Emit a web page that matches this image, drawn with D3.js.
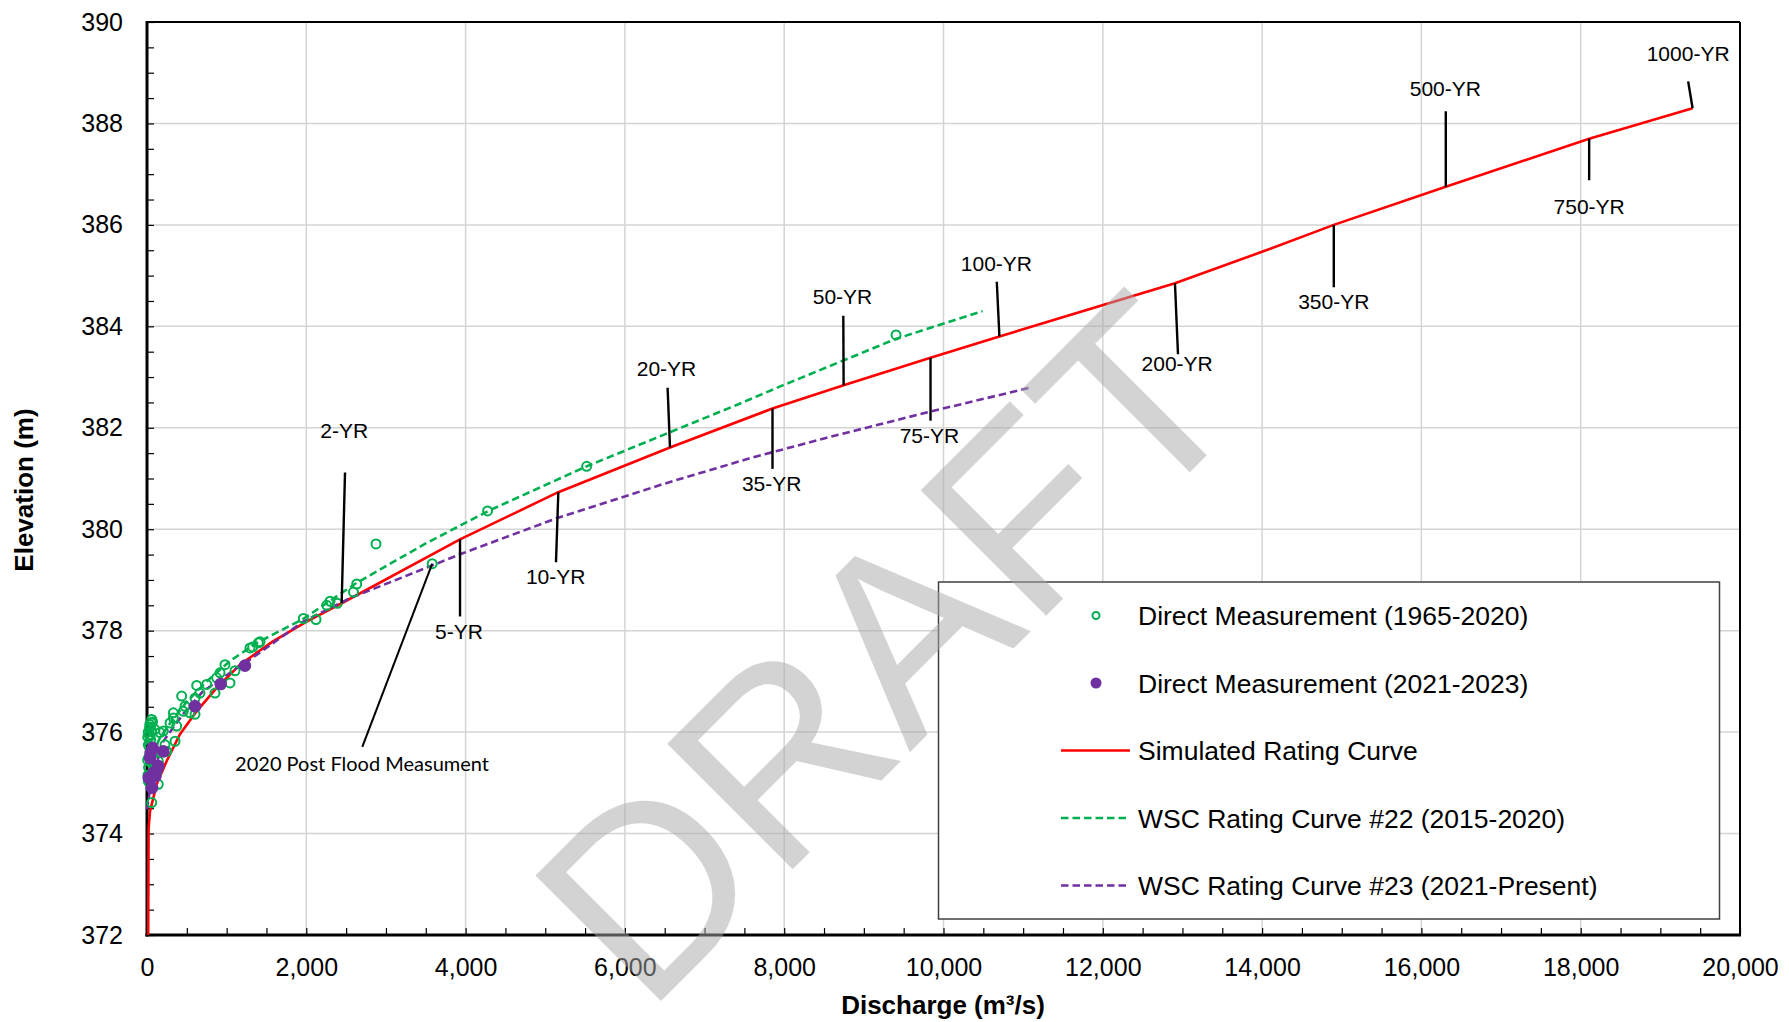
<!DOCTYPE html>
<html>
<head>
<meta charset="utf-8">
<script src="https://cdnjs.cloudflare.com/ajax/libs/d3/7.8.5/d3.min.js"></script>
<style>
body { margin: 0; background: #fff; }
svg { display: block; }
</style>
</head>
<body>
<div id="chart-bg"></div>
<script>
// simulated rating curve (discharge, elevation)
var simQ = [15, 20, 38, 121, 247, 414, 623, 874, 1167, 1581, 2004, 2444, 3930, 5164, 6566, 7853, 8746, 9837, 10702, 12906, 13999, 14900, 16306, 18106, 19405];
var simE = [372.0, 374.1, 374.44, 374.97, 375.43, 375.96, 376.41, 376.87, 377.33, 377.79, 378.18, 378.54, 379.80, 380.73, 381.61, 382.38, 382.84, 383.38, 383.80, 384.85, 385.47, 386.0, 386.75, 387.70, 388.30];

// WSC rating curve #22 (2015-2020)
var wsc22Q = [20, 60, 150, 300, 500, 750, 1040, 1380, 1960, 2630, 3500, 4285, 5520, 6500, 7403, 7988, 9400, 10490];
var wsc22E = [375.1, 375.5, 375.85, 376.2, 376.6, 377.0, 377.4, 377.76, 378.23, 378.94, 379.72, 380.36, 381.24, 381.87, 382.45, 382.84, 383.75, 384.3];

// WSC rating curve #23 (2021-present)
var wsc23Q = [0, 50, 205, 450, 700, 1126, 1293, 1963, 2549, 3971, 5150, 6500, 7571, 8500, 9837, 11086];
var wsc23E = [374.48, 375.0, 375.82, 376.35, 376.8, 377.26, 377.43, 378.18, 378.64, 379.53, 380.22, 380.9, 381.40, 381.79, 382.32, 382.79];

// direct measurements 1965-2020
var meas1Q = [1963, 2122, 2256, 2298, 2390, 2592, 2633, 2875, 3581, 4276, 5520, 9404, 1419, 1327, 1398, 1293,
	979, 1105, 917, 875, 854, 1042, 749, 624, 603, 665, 477, 456, 540, 603, 331, 289, 373, 352, 205, 163,
	59, 59, 38, 17, 226, 247, 142, 121, 142, 59, 17, 38, 96, 435, 331, 100, 33,
	20, 25, 30, 45, 15, 40, 70, 50, 80, 10, 60, 12, 28, 8, 35];
var meas1E = [378.24, 378.22, 378.50, 378.58, 378.54, 378.76, 378.92, 379.71, 379.32, 380.36, 381.24, 383.83, 377.78, 377.68, 377.76, 377.66,
	377.33, 377.21, 377.17, 377.07, 376.77, 376.97, 376.94, 376.92, 376.67, 376.77, 376.51, 376.41, 376.38, 376.35, 376.28, 376.18, 376.12, 375.82, 376.02, 375.99,
	376.18, 376.02, 375.92, 375.75, 375.75, 375.62, 375.43, 375.20, 374.97, 374.61, 375.03, 375.56, 375.30, 376.71, 376.38, 376.05, 376.08,
	375.3, 375.5, 375.7, 375.85, 376.0, 376.1, 376.2, 375.4, 375.6, 375.9, 376.25, 375.15, 375.95, 375.45, 376.15];

// direct measurements 2021-2023
var meas2Q = [1230, 925, 603, 205, 71, 38, 142, 21, 105, 63, 84, 46, 126];
var meas2E = [377.31, 376.95, 376.51, 375.62, 375.69, 375.49, 375.33, 375.10, 375.13, 374.90, 375.20, 375.59, 375.27];

// return period annotations
var rpLabels = ["2-YR", "5-YR", "10-YR", "20-YR", "35-YR", "50-YR", "75-YR", "100-YR", "200-YR", "350-YR", "500-YR", "750-YR", "1000-YR"];
var rpQ = [2444, 3930, 5164, 6566, 7853, 8746, 9837, 10702, 12906, 14900, 16306, 18106, 19405];
var rpE = [378.54, 379.80, 380.73, 381.61, 382.38, 382.84, 383.38, 383.80, 384.85, 386.0, 386.75, 387.70, 388.30];
var rpEndQ = [2486, 3930, 5135, 6536, 7853, 8742, 9837, 10669, 12944, 14900, 16306, 18106, 19349];
var rpEndE = [381.12, 378.28, 379.35, 382.79, 381.19, 384.21, 382.14, 384.88, 383.45, 384.77, 388.24, 386.88, 388.83];
var rpTextQ = [2477, 3917, 5131, 6522, 7843, 8732, 9823, 10664, 12934, 14900, 16301, 18106, 19349];
var rpTextE = [381.88, 377.93, 379.02, 383.11, 380.84, 384.53, 381.79, 385.19, 383.21, 384.43, 388.63, 386.31, 389.33];

// post flood note
var noteText = "2020 Post Flood Measument";
var noteQ = [3581, 2703];
var noteE = [379.32, 375.71];
var noteTextQ = 2700;
var noteTextE = 375.37;

var xTicks = d3.range(0, 20001, 2000);
var yTicks = d3.range(372, 390.1, 2);

var legendLabels = ["Direct Measurement (1965-2020)", "Direct Measurement (2021-2023)", "Simulated Rating Curve", "WSC Rating Curve #22 (2015-2020)", "WSC Rating Curve #23 (2021-Present)"];

var W = 1789, H = 1022;
var pL = 147, pR = 1740, pT = 22, pB = 935;
var font = "'Liberation Sans', Arial, sans-serif";
var green = "#00b050", purple = "#7030a0", red = "#ff0000";

var xScale = d3.scaleLinear().domain([0, 20000]).range([pL, pR]);
var yScale = d3.scaleLinear().domain([372, 390]).range([pB, pT]);

var svg = d3.
select("#chart-bg").
append("svg").
attr("width", W).
attr("height", H).
style("font-family", font);

// grid
svg.append("g").
selectAll("line").
data(xTicks.slice(1, -1)).
enter().
append("line").
attr("x1", function (d) {return xScale(d);}).
attr("x2", function (d) {return xScale(d);}).
attr("y1", pT).
attr("y2", pB).
attr("stroke", "#d4d4d4").
attr("stroke-width", 1.5);

svg.append("g").
selectAll("line").
data(yTicks.slice(1, -1)).
enter().
append("line").
attr("y1", function (d) {return yScale(d);}).
attr("y2", function (d) {return yScale(d);}).
attr("x1", pL).
attr("x2", pR).
attr("stroke", "#d4d4d4").
attr("stroke-width", 1.5);

// minor ticks (inside)
svg.append("g").
attr("transform", "translate(0," + pB + ")").
call(d3.axisBottom(xScale).tickValues(d3.range(0, 20001, 500)).tickSize(-7).tickFormat("")).
call(function (g) {g.select(".domain").remove();}).
selectAll("line").attr("stroke", "#000").attr("stroke-width", 1.2);

svg.append("g").
attr("transform", "translate(" + pL + ",0)").
call(d3.axisLeft(yScale).tickValues(d3.range(372, 390.01, 0.5)).tickSize(-7).tickFormat("")).
call(function (g) {g.select(".domain").remove();}).
selectAll("line").attr("stroke", "#000").attr("stroke-width", 1.2);

// frame
svg.append("line").attr("x1", pL).attr("x2", pR).attr("y1", pT).attr("y2", pT).attr("stroke", "#000").attr("stroke-width", 2);
svg.append("line").attr("x1", pR).attr("x2", pR).attr("y1", pT).attr("y2", pB).attr("stroke", "#000").attr("stroke-width", 2);
svg.append("line").attr("x1", pL).attr("x2", pL).attr("y1", pT - 1).attr("y2", pB + 1.5).attr("stroke", "#000").attr("stroke-width", 3);
svg.append("line").attr("x1", pL - 1.5).attr("x2", pR + 1).attr("y1", pB).attr("y2", pB).attr("stroke", "#000").attr("stroke-width", 3);

// tick labels
var xAxis = svg.append("g").
attr("transform", "translate(0," + pB + ")").
call(d3.axisBottom(xScale).tickValues(xTicks).tickSize(0).tickPadding(23).tickFormat(d3.format(",")));
xAxis.select(".domain").remove();
xAxis.selectAll("text").attr("font-size", 25).attr("font-family", font).attr("fill", "#000");

var yAxis = svg.append("g").
attr("transform", "translate(" + pL + ",0)").
call(d3.axisLeft(yScale).tickValues(yTicks).tickSize(0).tickPadding(24).tickFormat(d3.format("d")));
yAxis.select(".domain").remove();
yAxis.selectAll("text").attr("font-size", 25).attr("font-family", font).attr("fill", "#000");

// axis titles
svg.append("text").
text("Discharge (m\u00b3/s)").
attr("x", 943).
attr("y", 1014).
attr("text-anchor", "middle").
attr("font-size", 26).
attr("font-weight", "bold");

svg.append("text").
text("Elevation (m)").
attr("transform", "translate(33,490) rotate(-90)").
attr("text-anchor", "middle").
attr("font-size", 26).
attr("font-weight", "bold");

// curves
var line = d3.line().
x(function (d) {return xScale(d[0]);}).
y(function (d) {return yScale(d[1]);});

svg.append("path").
datum(d3.zip(simQ, simE)).
attr("d", line).
attr("fill", "none").
attr("stroke", red).
attr("stroke-width", 2.6);

svg.append("path").
datum(d3.zip(wsc22Q, wsc22E)).
attr("d", line).
attr("fill", "none").
attr("stroke", green).
attr("stroke-width", 2.6).
attr("stroke-dasharray", "7.5,4");

svg.append("path").
datum(d3.zip(wsc23Q, wsc23E)).
attr("d", line).
attr("fill", "none").
attr("stroke", purple).
attr("stroke-width", 2.6).
attr("stroke-dasharray", "7.5,4");

// measurements
svg.append("g").
selectAll("circle").
data(d3.zip(meas1Q, meas1E)).
enter().
append("circle").
attr("cx", function (d) {return xScale(d[0]);}).
attr("cy", function (d) {return yScale(d[1]);}).
attr("r", 4.5).
attr("fill", "none").
attr("stroke", green).
attr("stroke-width", 2);

svg.append("g").
selectAll("circle").
data(d3.zip(meas2Q, meas2E)).
enter().
append("circle").
attr("cx", function (d) {return xScale(d[0]);}).
attr("cy", function (d) {return yScale(d[1]);}).
attr("r", 6.3).
attr("fill", purple);

// return period leaders and labels
var rp = rpLabels.map(function (t, i) {
	return {t: t, q: rpQ[i], e: rpE[i], q2: rpEndQ[i], e2: rpEndE[i], tq: rpTextQ[i], te: rpTextE[i]};
});

svg.append("g").
selectAll("line").
data(rp).
enter().
append("line").
attr("x1", function (d) {return xScale(d.q);}).
attr("y1", function (d) {return yScale(d.e);}).
attr("x2", function (d) {return xScale(d.q2);}).
attr("y2", function (d) {return yScale(d.e2);}).
attr("stroke", "#000").
attr("stroke-width", 2.4);

svg.append("g").
selectAll("text").
data(rp).
enter().
append("text").
text(function (d) {return d.t;}).
attr("x", function (d) {return xScale(d.tq);}).
attr("y", function (d) {return yScale(d.te);}).
attr("dy", "0.22em").
attr("text-anchor", "middle").
attr("font-size", 21);

// post flood note
svg.append("line").
attr("x1", xScale(noteQ[0])).
attr("y1", yScale(noteE[0])).
attr("x2", xScale(noteQ[1])).
attr("y2", yScale(noteE[1])).
attr("stroke", "#000").
attr("stroke-width", 2);

svg.append("text").
text(noteText).
attr("x", xScale(noteTextQ)).
attr("y", yScale(noteTextE)).
attr("dy", "0.36em").
attr("text-anchor", "middle").
attr("font-family", "Lato, 'Open Sans', sans-serif").
attr("font-size", 20);

// legend
var lg = svg.append("g");
lg.append("rect").
attr("x", 938.5).
attr("y", 582).
attr("width", 781).
attr("height", 337).
attr("fill", "#fff").
attr("stroke", "#404040").
attr("stroke-width", 1.5);

var rowY = function (i) {return 615.5 + i * 67.5;};

lg.append("circle").attr("cx", 1096).attr("cy", rowY(0)).attr("r", 3.5).attr("fill", "none").attr("stroke", green).attr("stroke-width", 2);
lg.append("circle").attr("cx", 1096).attr("cy", rowY(1)).attr("r", 5.5).attr("fill", purple);
lg.append("line").attr("x1", 1061).attr("x2", 1130).attr("y1", rowY(2)).attr("y2", rowY(2)).attr("stroke", red).attr("stroke-width", 2.6);
lg.append("line").attr("x1", 1061).attr("x2", 1130).attr("y1", rowY(3)).attr("y2", rowY(3)).attr("stroke", green).attr("stroke-width", 2.6).attr("stroke-dasharray", "7.5,4");
lg.append("line").attr("x1", 1061).attr("x2", 1130).attr("y1", rowY(4)).attr("y2", rowY(4)).attr("stroke", purple).attr("stroke-width", 2.6).attr("stroke-dasharray", "7.5,4");

lg.selectAll("text.lbl").
data(legendLabels).
enter().
append("text").
attr("class", "lbl").
text(function (d) {return d;}).
attr("x", 1138).
attr("y", function (d, i) {return rowY(i);}).
attr("dy", "0.36em").
attr("font-size", 26.5);

// watermark
svg.append("text").
text("DRAFT").
attr("transform", "translate(646,1016) rotate(-45)").
attr("font-size", 258).
attr("fill", "#a9a9a9").
attr("opacity", 0.5);
</script>
</body>
</html>
